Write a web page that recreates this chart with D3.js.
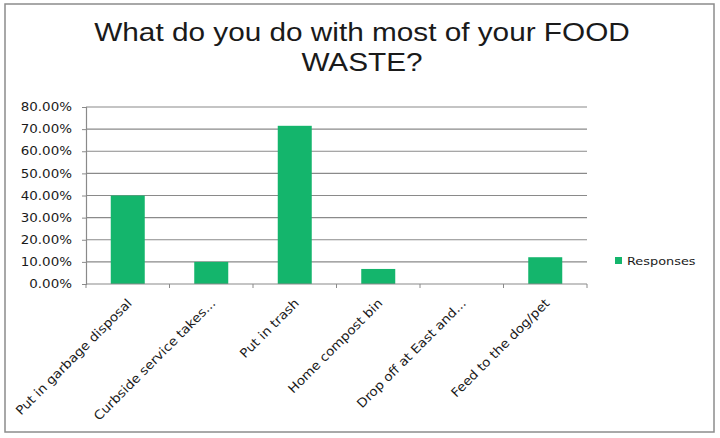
<!DOCTYPE html>
<html>
<head>
<meta charset="utf-8">
<script src="https://cdn.jsdelivr.net/npm/d3@7/dist/d3.min.js"></script>
<style>
  body { margin: 0; background: #fff; }
  text { fill: #1a1a1a; }
</style>
</head>
<body>
<div id="chart"></div>
<script>
const categories = ['Put in garbage disposal', 'Curbside service takes...', 'Put in trash',
    'Home compost bin', 'Drop off at East and...', 'Feed to the dog/pet']
const responses = [40.0, 10.0, 71.5, 6.8, 0, 12.1]
const yTicks = [0, 10, 20, 30, 40, 50, 60, 70, 80]
const titleLines = ['What do you do with most of your FOOD', 'WASTE?']
const seriesName = 'Responses'

const width = 720
const height = 438
const green = '#14b56c'
const gridColor = '#8a8a8a'
const stretch = 'scale(1.17,1)'   // the source picture is widened a little

const svg = d3.select('#chart').append('svg')
    .attr('width', width).attr('height', height)

// outer frame of the chart
svg.append('rect')
    .attr('x', 5).attr('y', 4).attr('width', 709).attr('height', 428)
    .attr('fill', '#fff').attr('stroke', '#8c8c8c').attr('stroke-width', 1.5)

svg.selectAll('.title').data(titleLines).enter().append('text')
    .attr('class', 'title')
    .attr('transform', (d, i) => `translate(362,${41 + i * 30}) scale(1.19,1)`)
    .attr('text-anchor', 'middle')
    .style('font-family', 'Liberation Sans, Arial, sans-serif')
    .style('font-size', '25px')
    .text(d => d)

const plotLeft = 86, plotRight = 587, plotTop = 107, plotBottom = 284

const x = d3.scaleBand()
    .domain(categories)
    .range([plotLeft, plotRight])

const y = d3.scaleLinear()
    .domain([0, 80])
    .range([plotBottom, plotTop])

// gridlines
svg.append('g').selectAll('line').data(yTicks.filter(d => d > 0)).enter().append('line')
    .attr('x1', plotLeft).attr('x2', plotRight)
    .attr('y1', d => y(d)).attr('y2', d => y(d))
    .attr('stroke', gridColor).attr('stroke-width', 1.2)

// y axis
const yAxis = svg.append('g')
    .attr('transform', `translate(${plotLeft},0)`)
    .call(d3.axisLeft(y).tickValues(yTicks).tickSize(4).tickPadding(10)
        .tickFormat(d => d.toFixed(2) + '%'))
yAxis.select('.domain').attr('stroke', gridColor).attr('stroke-width', 1.2)
yAxis.selectAll('.tick line').attr('stroke', gridColor)
yAxis.selectAll('.tick text')
    .attr('x', null)
    .attr('transform', `translate(-14,0) ${stretch}`)
    .style('font-family', 'DejaVu Sans, sans-serif')
    .style('font-size', '11.5px')
    .attr('fill', '#333')

// bars, 34px wide centred in each category
const barW = 34
svg.append('g').selectAll('rect').data(responses).enter().append('rect')
    .attr('x', (d, i) => x(categories[i]) + (x.bandwidth() - barW) / 2)
    .attr('width', barW)
    .attr('y', d => y(d))
    .attr('height', d => plotBottom - y(d))
    .attr('fill', green)

// x axis with ticks at category boundaries
svg.append('line')
    .attr('x1', plotLeft).attr('x2', plotRight)
    .attr('y1', plotBottom).attr('y2', plotBottom)
    .attr('stroke', gridColor).attr('stroke-width', 1.2)
const bounds = categories.map(c => x(c)).concat([plotRight])
svg.append('g').selectAll('line').data(bounds).enter().append('line')
    .attr('x1', d => d).attr('x2', d => d)
    .attr('y1', plotBottom).attr('y2', plotBottom + 4)
    .attr('stroke', gridColor)

svg.append('g').selectAll('text').data(categories).enter().append('text')
    .attr('transform', d => `translate(${x(d) + x.bandwidth() / 2 + 5},${plotBottom + 20}) rotate(-45) scale(1.08,1)`)
    .attr('text-anchor', 'end')
    .style('font-family', 'DejaVu Sans, sans-serif')
    .style('font-size', '12.5px')
    .attr('fill', '#333')
    .text(d => d)

// legend
const legend = svg.append('g').attr('transform', 'translate(615,257)')
legend.append('rect').attr('width', 7).attr('height', 7).attr('fill', green)
legend.append('text').attr('transform', `translate(12,8) ${stretch}`)
    .style('font-family', 'DejaVu Sans, sans-serif')
    .style('font-size', '11px')
    .attr('fill', '#333')
    .text(seriesName)
</script>
</body>
</html>
